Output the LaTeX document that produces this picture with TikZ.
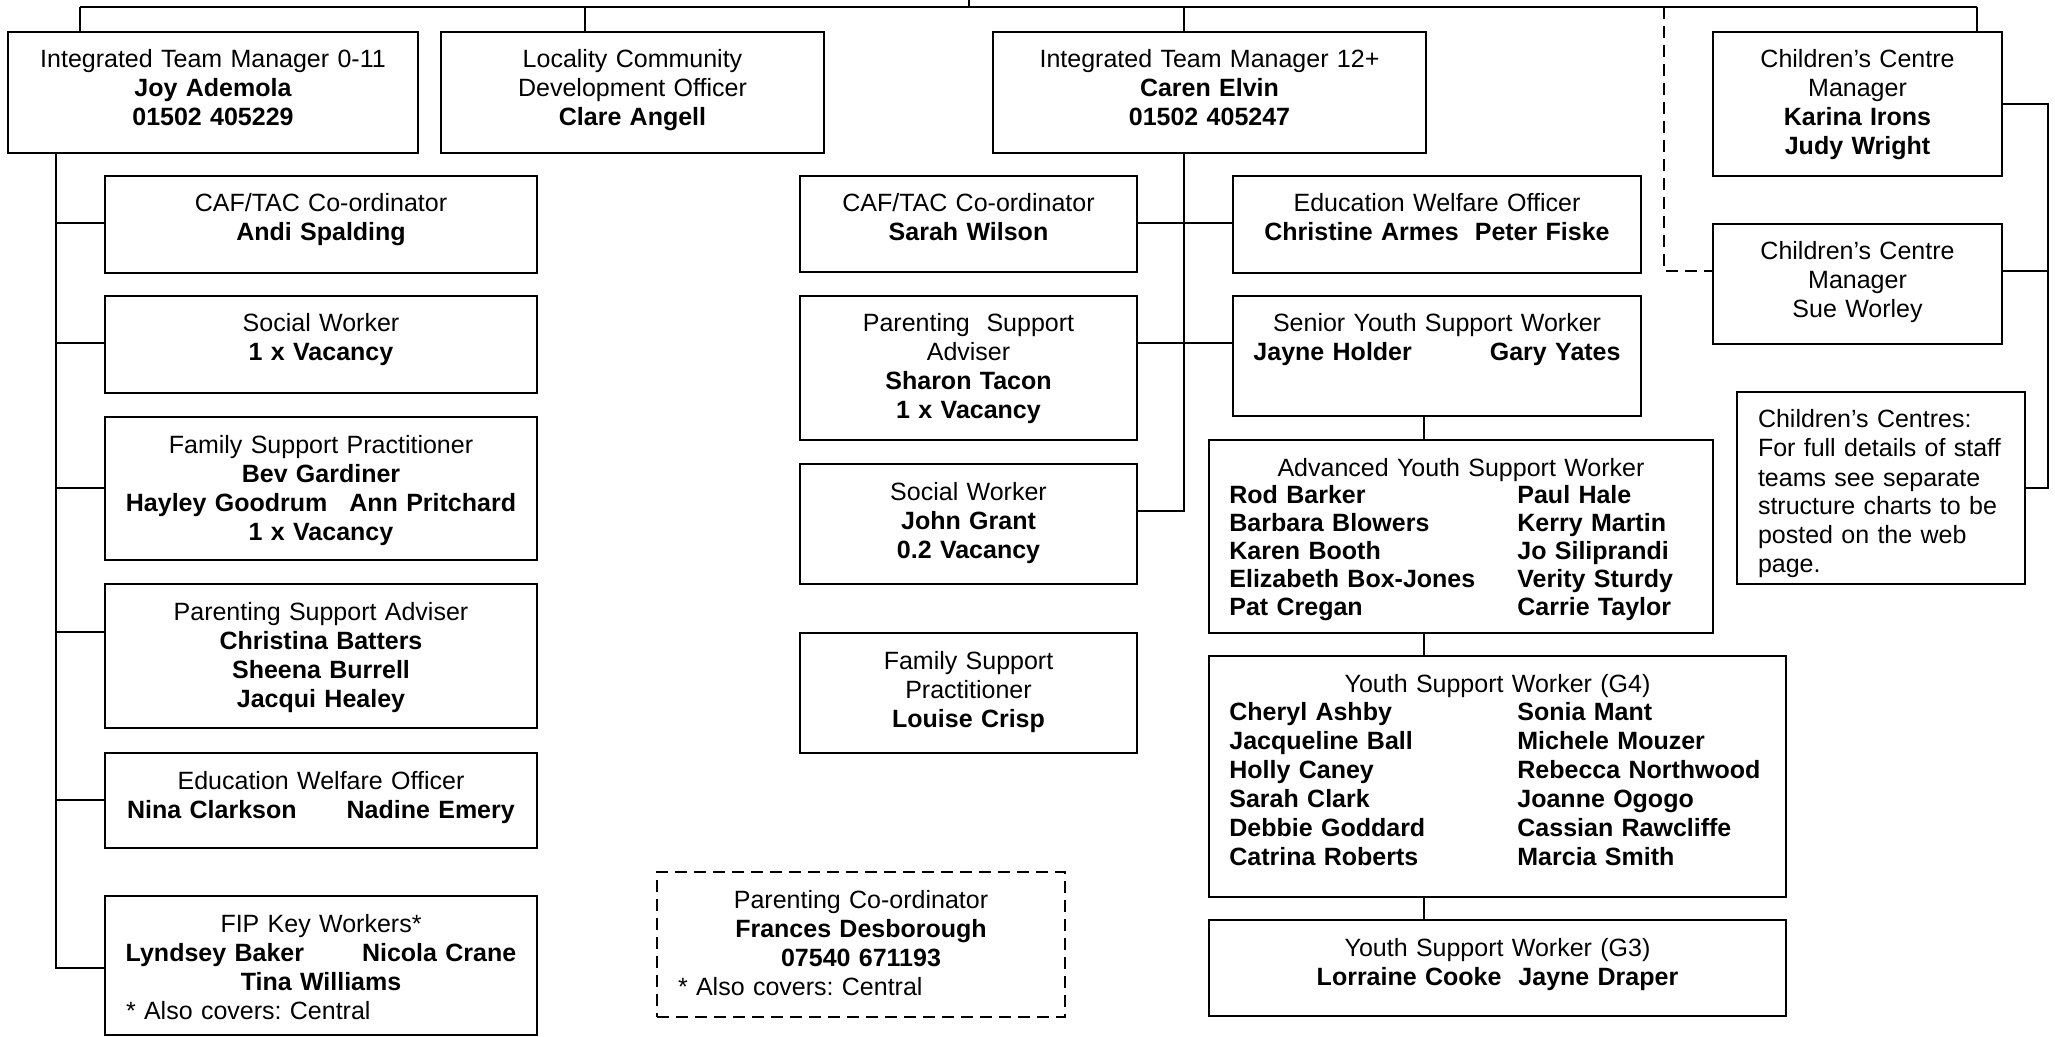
\documentclass[tikz,border=0pt]{standalone}
\usepackage{fontspec}
\setmainfont{Liberation Sans}
\usepackage{tikz}
\frenchspacing

\tikzset{
	post/.style 2 args={draw, line width=1pt, anchor=north west, inner sep=0pt,
		text width=#1, align=center, text height=18pt, text depth=#2},
	names/.style={anchor=base west, inner sep=0pt, text width=140pt, align=left,
		font=\fontsize{12.5}{14.5}\selectfont\bfseries},
	link/.style={line width=0.75pt},
	dashlink/.style={line width=0.75pt, dash pattern=on 6pt off 3.5pt},
	every node/.append style={font=\fontsize{12.5}{14.5}\selectfont}
}

\begin{document}
\begin{tikzpicture}[x=0.5pt, y=-0.5pt]
	\useasboundingbox (0,0) rectangle (2055,1037);

	\node[post={205pt}{42.5pt}] (itmA) at (7,31) {Integrated Team Manager 0-11\\ \textbf{Joy Ademola}\\ \textbf{01502 405229}};
	\node[post={191.5pt}{42.5pt}] (lcdo) at (440,31) {Locality Community\\ Development Officer\\ \textbf{Clare Angell}};
	\node[post={216.5pt}{42.5pt}] (itmB) at (992,31) {Integrated Team Manager 12+\\ \textbf{Caren Elvin}\\ \textbf{01502 405247}};
	\node[post={144.5pt}{54pt}] (ccmA) at (1712,31) {Children’s Centre\\ Manager\\ \textbf{Karina Irons}\\ \textbf{Judy Wright}};

	\node[post={216pt}{30.5pt}] (cafA) at (104,175) {CAF/TAC Co-ordinator\\ \textbf{Andi Spalding}};
	\node[post={216pt}{30.5pt}] (swA) at (104,295) {Social Worker\\ \textbf{1 x Vacancy}};
	\node[post={216pt}{53.5pt}] (fspA) at (104,416) {Family Support Practitioner\\ \textbf{Bev Gardiner}\\ \textbf{Hayley Goodrum\hspace{11pt}Ann Pritchard}\\ \textbf{1 x Vacancy}};
	\node[post={216pt}{54pt}] (psaA) at (104,583) {Parenting Support Adviser\\ \textbf{Christina Batters}\\ \textbf{Sheena Burrell}\\ \textbf{Jacqui Healey}};
	\node[post={216pt}{29.5pt}] (ewoA) at (104,752) {Education Welfare Officer\\ \textbf{Nina Clarkson\hspace{25pt}Nadine Emery}};
	\node[post={216pt}{51.5pt}] (fip) at (104,895) {FIP Key Workers*\\ \textbf{Lyndsey Baker\hspace{29pt}Nicola Crane}\\ \textbf{Tina Williams}\\ \makebox[\linewidth][l]{\hspace*{10.5pt}* Also covers: Central}};

	\node[post={168.5pt}{30pt}] (cafB) at (799,175) {CAF/TAC Co-ordinator\\ \textbf{Sarah Wilson}};
	\node[post={168.5pt}{54pt}] (psaB) at (799,295) {Parenting\ \ Support\\ Adviser\\ \textbf{Sharon Tacon}\\ \textbf{1 x Vacancy}};
	\node[post={168.5pt}{42pt}] (swB) at (799,463) {Social Worker\\ \textbf{John Grant}\\ \textbf{0.2 Vacancy}};
	\node[post={168.5pt}{42pt}] (fspB) at (799,632) {Family Support\\ Practitioner\\ \textbf{Louise Crisp}};
	\node[post={204pt}{54.5pt}, dash pattern=on 6pt off 3.5pt] (pco) at (656,871) {Parenting Co-ordinator\\ \textbf{Frances Desborough}\\ \textbf{07540 671193}\\ \makebox[\linewidth][l]{\hspace*{10.5pt}* Also covers: Central}};

	\node[post={204pt}{30.5pt}] (ewoB) at (1232,175) {Education Welfare Officer\\ \textbf{Christine Armes\hspace{8pt}Peter Fiske}};
	\node[post={204pt}{42pt}] (syswB) at (1232,295) {Senior Youth Support Worker\\ \textbf{Jayne Holder\hspace{39pt}Gary Yates}};
	\node[post={252pt}{78.5pt}] (aysw) at (1208,439) {Advanced Youth Support Worker};
	\node[post={288.5pt}{102.5pt}] (g4) at (1208,655) {Youth Support Worker (G4)};
	\node[post={288.5pt}{30pt}] (g3) at (1208,919) {Youth Support Worker (G3)\\ \textbf{Lorraine Cooke\hspace{8.5pt}Jayne Draper}};

	\node[names, font=\fontsize{12.5}{14}\selectfont\bfseries] (ayswL) at ([shift={(21,64)}]aysw.north west) {Rod Barker\\ Barbara Blowers\\ Karen Booth\\ Elizabeth Box-Jones\\ Pat Cregan};
	\node[names, font=\fontsize{12.5}{14}\selectfont\bfseries] (ayswR) at ([shift={(309,64)}]aysw.north west) {Paul Hale\\ Kerry Martin\\ Jo Siliprandi\\ Verity Sturdy\\ Carrie Taylor};
	\node[names] (g4L) at ([shift={(21,65)}]g4.north west) {Cheryl Ashby\\ Jacqueline Ball\\ Holly Caney\\ Sarah Clark\\ Debbie Goddard\\ Catrina Roberts};
	\node[names] (g4R) at ([shift={(309,65)}]g4.north west) {Sonia Mant\\ Michele Mouzer\\ Rebecca Northwood\\ Joanne Ogogo\\ Cassian Rawcliffe\\ Marcia Smith};

	\node[post={144.5pt}{42pt}] (ccmB) at (1712,223) {Children’s Centre\\ Manager\\ Sue Worley};
	\node[post={144pt}{78pt}, align=left, inner xsep=10.5pt, text width=123pt] (note) at (1736,391) {Children’s Centres:\\ For full details of staff\\ teams see separate\\ structure charts to be\\ posted on the web\\ page.};

	\coordinate (top) at (969,0);
	\coordinate (busL) at (80,7);
	\coordinate (busR) at (1977,7);
	\coordinate (dLoc) at (585,7);
	\coordinate (dB) at (1184,7);
	\coordinate (dCC) at (1664,7);
	\coordinate (trA) at (56,0);
	\coordinate (dY) at (1424,0);
	\coordinate (rR) at (2048,0);

	\draw[link] (top) -- (top |- busL);
	\draw[link] (busL) -- (busR);
	\foreach \c/\n in {busL/itmA, dLoc/lcdo, dB/itmB, busR/ccmA}
	{
		\draw[link] (\c) -- (\c |- \n.north);
	}
	\draw[dashlink] (dCC) |- ([yshift=-24pt]ccmB.north west);

	\draw[link] (itmA.south -| trA) |- ([yshift=-36.5pt]fip.north west);
	\foreach \n/\d in {cafA/48, swA/48, fspA/72, psaA/49, ewoA/48}
	{
		\draw[link] (\n.north west) ++(0,\d) -- ++(-48,0);
	}

	\draw[link] (itmB.south -| dB) |- ([yshift=-24pt]swB.north east);
	\draw[link] ([yshift=-24pt]cafB.north east) -- ([yshift=-24pt]ewoB.north west);
	\draw[link] ([yshift=-24pt]psaB.north east) -- ([yshift=-24pt]syswB.north west);
	\foreach \a/\b in {syswB/aysw, aysw/g4, g4/g3}
	{
		\draw[link] (\a.south -| dY) -- (\b.north -| dY);
	}

	\draw[link] (ccmA.east) -| (rR |- note.east) -- (note.east);
	\draw[link] ([yshift=-24pt]ccmB.north east) -- ([yshift=-24pt]ccmB.north east -| rR);
\end{tikzpicture}
\end{document}
